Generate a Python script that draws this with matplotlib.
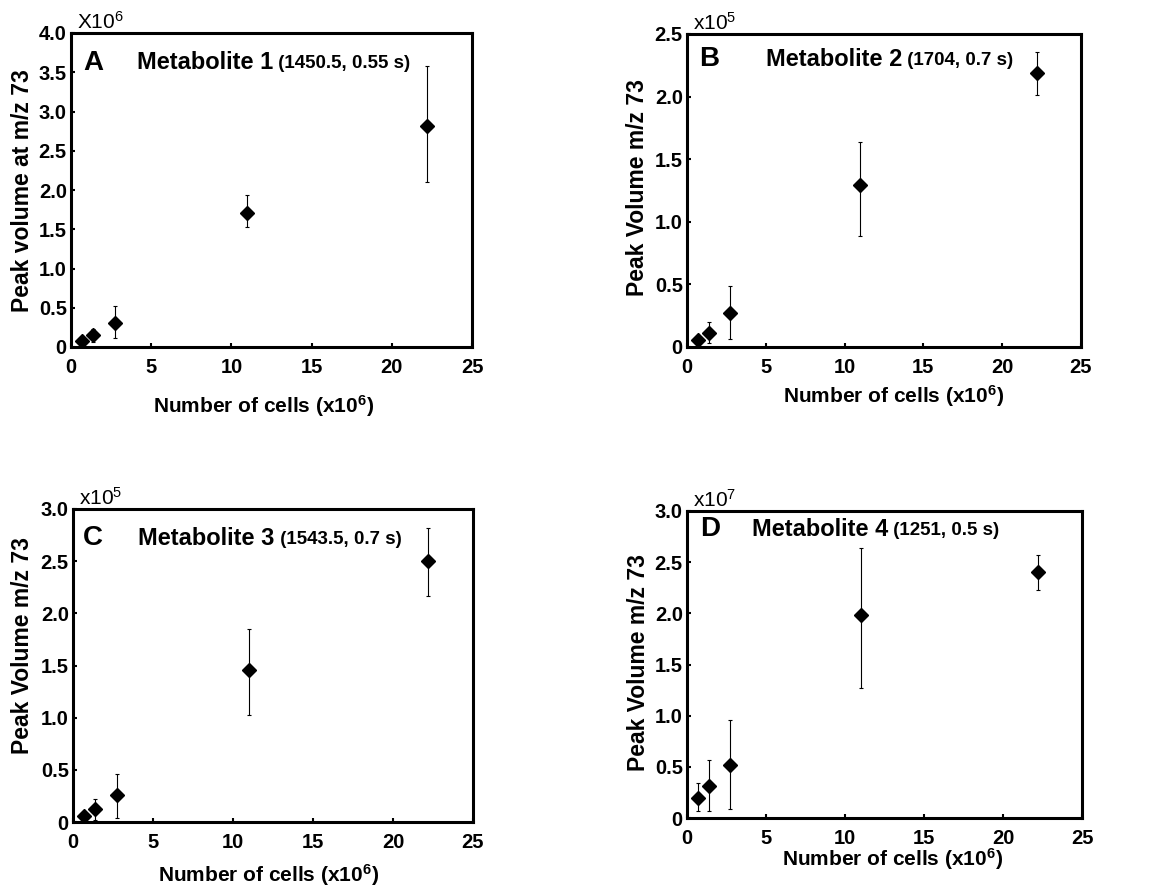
import matplotlib
matplotlib.use("Agg")
import matplotlib.pyplot as plt
import numpy as np

plt.rcParams['font.family'] = ['Liberation Sans', 'DejaVu Sans']
plt.rcParams['mathtext.default'] = 'regular'

# ---- data ----
cells = [0.69, 1.38, 2.75, 11.0, 22.2]   # x10^6 cells

m1_vals = [0.076, 0.15, 0.31, 1.71, 2.82]   # x10^6
m1_low = [0.04, 0.06, 0.12, 1.53, 2.10]
m1_high = [0.11, 0.23, 0.52, 1.93, 3.58]

m2_vals = [0.053, 0.11, 0.27, 1.29, 2.19]   # x10^5
m2_low = [0.03, 0.03, 0.06, 0.89, 2.01]
m2_high = [0.07, 0.197, 0.49, 1.64, 2.36]

m3_vals = [0.058, 0.12, 0.26, 1.455, 2.50]  # x10^5
m3_low = [0.015, 0.016, 0.04, 1.03, 2.17]
m3_high = [0.10, 0.22, 0.46, 1.85, 2.82]

m4_vals = [0.20, 0.31, 0.52, 1.98, 2.40]    # x10^7
m4_low = [0.065, 0.065, 0.088, 1.27, 2.23]
m4_high = [0.34, 0.57, 0.96, 2.64, 2.57]

letters = ['A', 'B', 'C', 'D']
names = ['Metabolite 1', 'Metabolite 2', 'Metabolite 3', 'Metabolite 4']
notes = [' (1450.5, 0.55 s)', ' (1704, 0.7 s)', ' (1543.5, 0.7 s)', ' (1251, 0.5 s)']
exps = ['X10$^6$', 'x10$^5$', 'x10$^5$', 'x10$^7$']
ylabels = ['Peak volume at m/z 73', 'Peak Volume m/z 73', 'Peak Volume m/z 73', 'Peak Volume m/z 73']
ymaxs = [4.0, 2.5, 3.0, 3.0]
xlabel = 'Number of cells (x10$^6$)'
xticks = [0, 5, 10, 15, 20, 25]

W, H = 1165, 886
fig = plt.figure(figsize=(W / 100, H / 100), dpi=100)

# pixel boxes (left, top, right, bottom)
boxes = [(71, 33, 472, 347), (687, 34, 1081, 347), (73, 509, 473, 822), (687, 511, 1082, 818)]
title_pos = [(0.165, 0.905), (0.20, 0.92), (0.163, 0.907), (0.165, 0.94)]
letter_pos = [(0.03, 0.905), (0.03, 0.92), (0.025, 0.907), (0.033, 0.94)]
xlab_coords = [(0.48, -0.146), (0.523, -0.115), (0.49, -0.128), (0.52, -0.092)]
ylab_coords = [(-0.092, 0.497), (-0.097, 0.51), (-0.097, 0.565), (-0.094, 0.505)]

series = [(m1_vals, m1_low, m1_high), (m2_vals, m2_low, m2_high),
          (m3_vals, m3_low, m3_high), (m4_vals, m4_low, m4_high)]

for i in range(4):
    l, t, r, b = boxes[i]
    ax = fig.add_axes([l / W, (H - b) / H, (r - l) / W, (b - t) / H])
    vals, low, high = series[i]
    vals = np.array(vals); low = np.array(low); high = np.array(high)
    yerr = np.vstack([vals - low, high - vals])
    ax.errorbar(cells, vals, yerr=yerr, fmt='D', color='black', markersize=7,
                ecolor='black', elinewidth=0.8, capsize=1.5, capthick=0.8)
    ax.set_xlim(0, 25)
    ax.set_ylim(0, ymaxs[i])
    ax.set_xticks(xticks)
    ax.set_xticklabels([str(v) for v in xticks])
    yt = np.arange(0, ymaxs[i] + 0.01, 0.5)
    ax.set_yticks(yt)
    ax.set_yticklabels(['0'] + ['%.1f' % v for v in yt[1:]])
    for s in ax.spines.values():
        s.set_linewidth(2.2)
    ax.tick_params(direction='in', length=3, width=1.5, top=False, right=False,
                   labelsize=14.5)
    ax.tick_params(axis='x', pad=8)
    ax.tick_params(axis='y', pad=3)
    for lab in ax.get_xticklabels() + ax.get_yticklabels():
        lab.set_fontweight('bold')
    ax.set_xlabel(xlabel, fontsize=15, fontweight='bold')
    ax.xaxis.set_label_coords(*xlab_coords[i])
    ax.set_ylabel(ylabels[i], fontsize=16.5, fontweight='bold')
    ax.yaxis.set_label_coords(*ylab_coords[i])
    ax.text(letter_pos[i][0], letter_pos[i][1], letters[i], transform=ax.transAxes,
            fontsize=20, fontweight='bold', va='center', ha='left')
    t1 = ax.text(title_pos[i][0], title_pos[i][1], names[i], transform=ax.transAxes,
                 fontsize=17, fontweight='bold', va='center', ha='left')
    ax.annotate(notes[i], xy=(1, 0.08), xycoords=t1, fontsize=13.5, fontweight='bold',
                va='bottom', ha='left')
    ax.text(0.015, 1.0, exps[i], transform=ax.transAxes, fontsize=15,
            va='bottom', ha='left')

fig.savefig('out.png', dpi=100)
